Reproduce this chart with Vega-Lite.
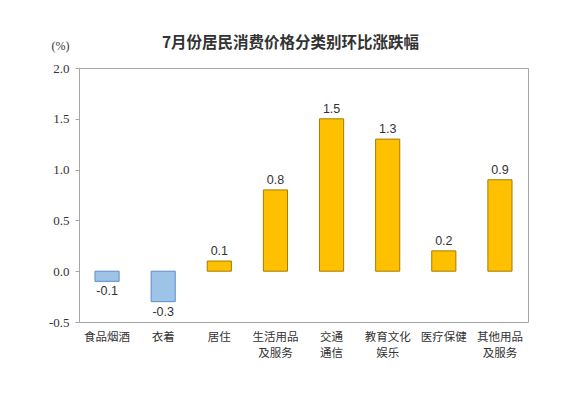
{
  "$schema": "https://vega.github.io/schema/vega-lite/v6.json",
  "autosize": "none",
  "width": 449,
  "height": 254,
  "padding": {"left": 79, "top": 68, "right": 43, "bottom": 77},
  "background": "white",
  "title": {"text": "7月份居民消费价格分类别环比涨跌幅", "anchor": "middle", "offset": -12, "fontSize": 15.5, "fontWeight": "bold", "font": "Noto Sans CJK SC", "color": "#333333", "dx": -13},
  "config": {"view": {"stroke": "#a6a6a6", "strokeWidth": 1}},
  "data": {"values": [
    {"category": "食品烟酒", "value": -0.1},
    {"category": "衣着", "value": -0.3},
    {"category": "居住", "value": 0.1},
    {"category": "生活用品及服务", "value": 0.8},
    {"category": "交通通信", "value": 1.5},
    {"category": "教育文化娱乐", "value": 1.3},
    {"category": "医疗保健", "value": 0.2},
    {"category": "其他用品及服务", "value": 0.9}
  ]},
  "encoding": {
    "x": {"field": "category", "type": "nominal", "sort": null,
      "scale": {"paddingInner": 0.57, "paddingOuter": 0.285},
      "axis": {"title": null, "ticks": false, "domain": false, "labelAngle": 0, "labelPadding": 9,
        "labelFont": "Noto Sans CJK SC", "labelFontSize": 11.5, "labelColor": "#333333", "labelLineHeight": 16,
        "labelBaseline": "top",
        "labelExpr": "datum.value == '生活用品及服务' ? ['生活用品','及服务'] : datum.value == '交通通信' ? ['交通','通信'] : datum.value == '教育文化娱乐' ? ['教育文化','娱乐'] : datum.value == '其他用品及服务' ? ['其他用品','及服务'] : datum.value"}}
  },
  "layer": [
    {"mark": {"type": "bar", "strokeWidth": 1},
      "encoding": {
        "y": {"field": "value", "type": "quantitative",
          "scale": {"domain": [-0.5, 2.0], "nice": false, "zero": false},
          "axis": {"title": "(%)", "titleAngle": 0, "titleX": -10, "titleY": -16, "titleAlign": "right", "titleFont": "Liberation Serif", "titleFontWeight": "normal", "titleFontSize": 12, "titleColor": "#333333",
            "values": [-0.5, 0, 0.5, 1.0, 1.5, 2.0], "grid": false,
            "labelExpr": "replace(format(datum.value, '.1f'), '−', '-')",
            "domainColor": "#a6a6a6", "tickColor": "#a6a6a6", "tickSize": 4,
            "labelFont": "Liberation Serif", "labelFontSize": 13, "labelColor": "#333333", "labelPadding": 6}},
        "color": {"condition": {"test": "datum.value < 0", "value": "#9DC3E6"}, "value": "#FFC000"},
        "stroke": {"condition": {"test": "datum.value < 0", "value": "#5B8FC8"}, "value": "#A67C00"}
      }},
    {"mark": {"type": "rule", "color": "#a6a6a6", "strokeWidth": 1},
      "encoding": {"y": {"datum": 0, "type": "quantitative"}}},
    {"transform": [{"filter": "datum.value >= 0"}],
      "mark": {"type": "text", "font": "Liberation Sans", "fontSize": 12.5, "color": "#333333", "baseline": "bottom", "dy": -3},
      "encoding": {
        "y": {"field": "value", "type": "quantitative"},
        "text": {"field": "value", "type": "quantitative", "format": ".1f"}
      }},
    {"transform": [{"filter": "datum.value < 0"}],
      "mark": {"type": "text", "font": "Liberation Sans", "fontSize": 12.5, "color": "#333333", "baseline": "top", "dy": 4},
      "encoding": {
        "y": {"field": "value", "type": "quantitative"},
        "text": {"field": "value", "type": "nominal"}
      }}
  ]
}
